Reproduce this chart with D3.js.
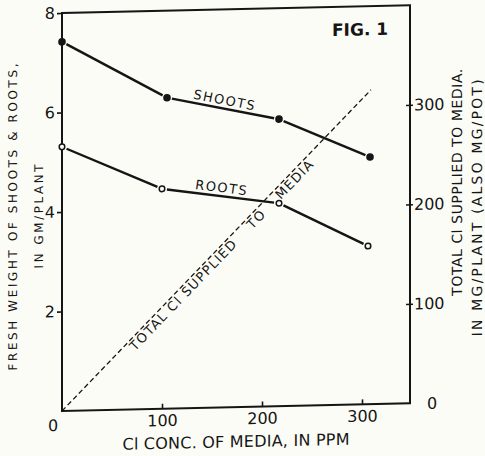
<!DOCTYPE html>
<html>
<head>
<meta charset="utf-8">
<script src="https://cdn.jsdelivr.net/npm/d3@7"></script>
<style>
  body { margin: 0; background: #fcfcf7; }
  svg { display: block; font-family: "DejaVu Sans", sans-serif; }
</style>
</head>
<body>
<div id="fig1"></div>
<script>
// values
var shootsPpm = [0, 105, 217, 308];
var shootsWeight = [7.42, 6.25, 5.77, 4.97];
var rootsPpm = [0, 100, 217, 306];
var rootsWeight = [5.31, 4.42, 4.08, 3.18];
var clPpm = [0, 309];
var clTotal = [0, 316];
var weightTicks = [2, 4, 6, 8];
var ppmTicks = [100, 200, 300];
var clTicks = [100, 200, 300];

var ink = "#151515";
var margin = { top: 13, left: 62 },
  width = 348,
  height = 398;

var svg = d3.select("#fig1")
  .append("svg")
  .attr("width", 485)
  .attr("height", 456);

// the scan is a little skewed, horizontal lines rise towards the right
var g = svg.append("g")
  .attr("transform", "matrix(1,-0.022,0,1," + margin.left + "," + margin.top + ")");

var x = d3.scaleLinear().domain([0, 348]).range([0, width]);
var y = d3.scaleLinear().domain([0, 8]).range([height, 0]);
var y2 = d3.scaleLinear().domain([0, 400]).range([height, 0]);

// frame
g.append("rect")
  .attr("width", width)
  .attr("height", height)
  .attr("fill", "none")
  .attr("stroke", ink)
  .attr("stroke-width", 2);

// axes
var left = g.append("g")
  .call(d3.axisLeft(y).tickValues(weightTicks).tickSize(5).tickPadding(2));
var bottom = g.append("g")
  .attr("transform", "translate(0," + height + ")")
  .call(d3.axisBottom(x).tickValues(ppmTicks).tickSize(-5).tickPadding(6));
var right = g.append("g")
  .attr("transform", "translate(" + width + ",0)")
  .call(d3.axisRight(y2).tickValues(clTicks).tickSize(3).tickPadding(1));
right.selectAll(".tick line").attr("x1", -4);

[left, bottom, right].forEach(function (a) {
  a.attr("font-family", null);
  a.select(".domain").remove();
  a.selectAll(".tick line").attr("stroke", ink).attr("stroke-width", 1.6);
  a.selectAll(".tick text").attr("fill", ink).style("font-size", "16px");
});

// the corner zeros
g.append("text")
  .attr("x", -9).attr("y", height + 20)
  .attr("text-anchor", "middle")
  .style("font-size", "16px").attr("fill", ink)
  .text("0");
g.append("text")
  .attr("x", width + 22).attr("y", height + 6)
  .attr("text-anchor", "middle")
  .style("font-size", "16px").attr("fill", ink)
  .text("0");

// line segments stop short of the markers, as in the drawing
function gapped(xs, ys, sy, gap) {
  var pts = xs.map(function (d, i) { return [x(d), sy(ys[i])] });
  var segs = [];
  for (var i = 0; i < pts.length - 1; i++) {
    var a = pts[i], b = pts[i + 1];
    var dx = b[0] - a[0], dy = b[1] - a[1], len = Math.sqrt(dx * dx + dy * dy);
    segs.push([[a[0] + dx / len * gap, a[1] + dy / len * gap],
               [b[0] - dx / len * gap, b[1] - dy / len * gap]]);
  }
  return segs;
}

var line = d3.line();

// total Cl supplied (dashed)
g.append("path")
  .attr("d", line(clPpm.map(function (d, i) { return [x(d), y2(clTotal[i])] })))
  .attr("fill", "none")
  .attr("stroke", ink)
  .attr("stroke-width", 1.3)
  .attr("stroke-dasharray", "5,3");

g.selectAll("shootSeg")
  .data(gapped(shootsPpm, shootsWeight, y, 5))
  .enter()
  .append("path")
  .attr("d", line)
  .attr("stroke", ink)
  .attr("stroke-width", 2.4);

g.selectAll("rootSeg")
  .data(gapped(rootsPpm, rootsWeight, y, 5))
  .enter()
  .append("path")
  .attr("d", line)
  .attr("stroke", ink)
  .attr("stroke-width", 2.4);

g.selectAll("shootDot")
  .data(shootsPpm)
  .enter()
  .append("circle")
  .attr("cx", function (d) { return x(d) })
  .attr("cy", function (d, i) { return y(shootsWeight[i]) })
  .attr("r", 3.8)
  .attr("fill", ink);

g.selectAll("rootDot")
  .data(rootsPpm)
  .enter()
  .append("circle")
  .attr("cx", function (d) { return x(d) })
  .attr("cy", function (d, i) { return y(rootsWeight[i]) })
  .attr("r", 2.8)
  .attr("fill", "#fcfcf7")
  .attr("stroke", ink)
  .attr("stroke-width", 1.5);

// labels written along the curves
function along(xs, ys, sy, i, t, off) {
  var x1 = x(xs[i]), y1 = sy(ys[i]), x2 = x(xs[i + 1]), y2v = sy(ys[i + 1]);
  var ang = Math.atan2(y2v - y1, x2 - x1) * 180 / Math.PI;
  return "translate(" + (x1 + (x2 - x1) * t) + "," + (y1 + (y2v - y1) * t) + ") rotate(" + ang + ") translate(0," + off + ")";
}

g.append("text")
  .attr("transform", along(shootsPpm, shootsWeight, y, 1, 0.5, -4))
  .attr("text-anchor", "middle")
  .style("font-size", "13px").style("letter-spacing", "1.5px")
  .attr("fill", ink)
  .text("SHOOTS");

g.append("text")
  .attr("transform", along(rootsPpm, rootsWeight, y, 1, 0.5, -4))
  .attr("text-anchor", "middle")
  .style("font-size", "13px").style("letter-spacing", "1.5px")
  .attr("fill", ink)
  .text("ROOTS");

var clLabel = g.append("text")
  .attr("transform", along(clPpm, clTotal, y2, 0, 0.21, 11.5))
  .style("font-size", "13px").style("letter-spacing", "1.3px")
  .attr("fill", ink)
  .text("TOTAL Cl SUPPLIED");
clLabel.append("tspan").attr("dx", 20).text("TO");
clLabel.append("tspan").attr("dx", 20).text("MEDIA");

g.append("text")
  .attr("x", 270).attr("y", 29)
  .style("font-size", "17px").style("font-weight", "bold")
  .attr("fill", ink)
  .text("FIG. 1");

// axis titles
g.append("text")
  .attr("x", width / 2).attr("y", height + 40)
  .attr("text-anchor", "middle")
  .attr("textLength", 227)
  .style("font-size", "16px")
  .attr("fill", ink)
  .text("Cl CONC. OF MEDIA, IN PPM");

var leftTitles = [["FRESH WEIGHT OF SHOOTS & ROOTS,", -45, 307], ["IN GM/PLANT", -19, 104]];
leftTitles.forEach(function (t) {
  g.append("text")
    .attr("transform", "translate(" + t[1] + "," + 203 + ") rotate(-90)")
    .attr("text-anchor", "middle")
    .attr("textLength", t[2])
    .style("font-size", "12px")
    .attr("fill", ink)
    .text(t[0]);
});

var rightTitles = [["TOTAL Cl SUPPLIED TO MEDIA.", width + 52, 178, 227], ["IN MG/PLANT (ALSO MG/POT)", width + 72, 204, 257]];
rightTitles.forEach(function (t) {
  g.append("text")
    .attr("transform", "translate(" + t[1] + "," + t[2] + ") rotate(-90)")
    .attr("text-anchor", "middle")
    .attr("textLength", t[3])
    .style("font-size", "14px")
    .attr("fill", ink)
    .text(t[0]);
});
</script>
</body>
</html>
